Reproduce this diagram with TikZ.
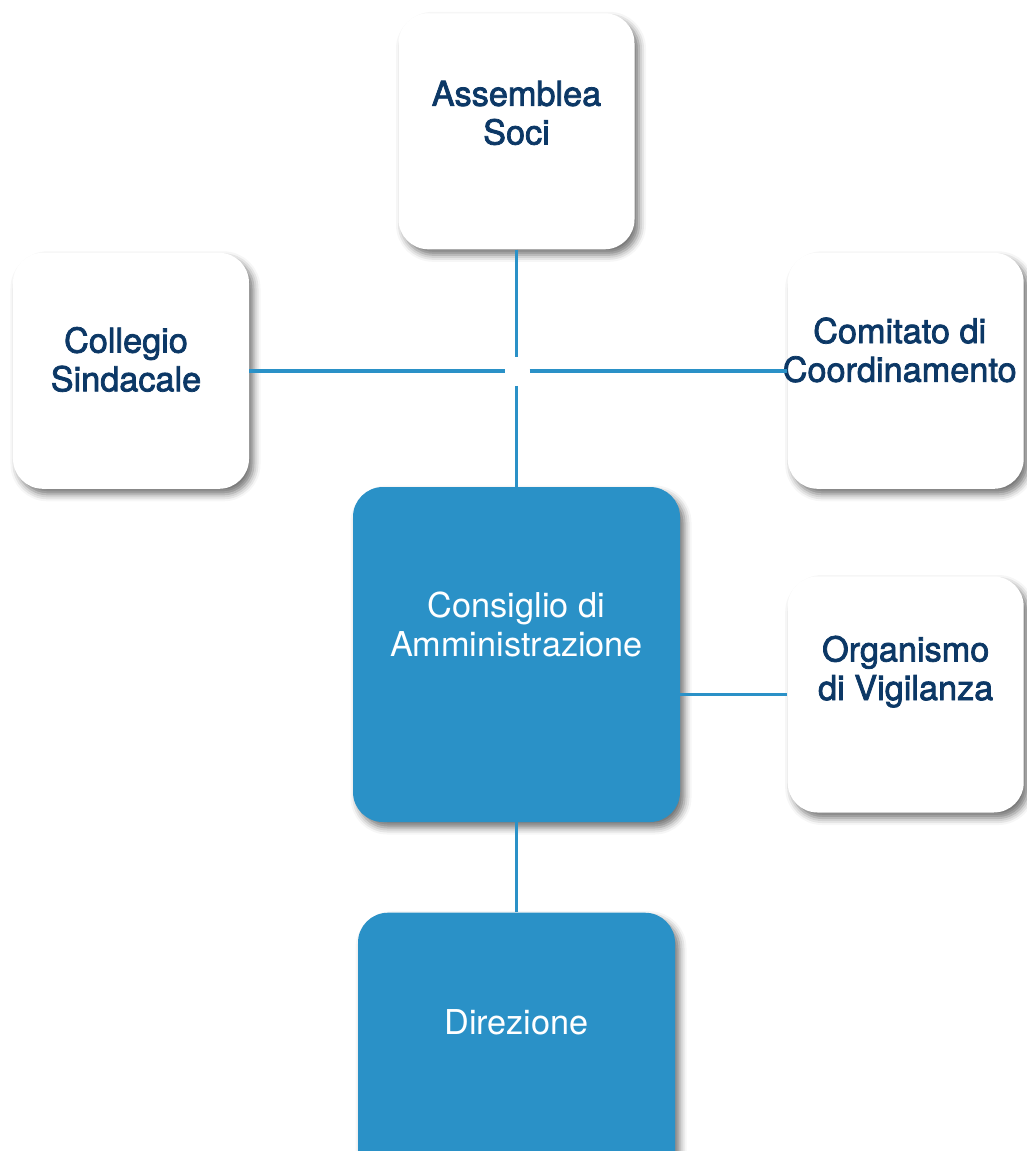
\documentclass[tikz,border=0pt]{standalone}
\usepackage{fontspec}
\setmainfont{TeX Gyre Heros}
\newfontfamily\medfont{TeX Gyre Heros}[FakeBold=2.2]
\usepackage{xcolor}
\usetikzlibrary{positioning,shadows.blur}
\definecolor{orgblue}{HTML}{2A91C7}
\definecolor{orgnavy}{HTML}{0C3866}

\begin{document}
\begin{tikzpicture}[
    font=\fontsize{19.5}{22}\selectfont,
    link/.style={draw=orgblue,line width=2pt},
    whitebox/.style={rounded corners=0.6cm,fill=white,
      minimum width=4.72cm,minimum height=4.72cm,
      blur shadow={shadow xshift=0.09cm,shadow yshift=-0.11cm,
        shadow blur radius=0.14cm,shadow opacity=55}},
    bluebox/.style={whitebox,fill=orgblue},
    darktext/.style={align=center,text=orgnavy,font=\medfont\fontsize{19.5}{22}\selectfont},
    lighttext/.style={align=center,text=white}
  ]
    \useasboundingbox (0,0) rectangle (20.54,-23.02);

    \node[bluebox,minimum width=6.54cm,minimum height=6.7cm] (cons) at (10.33,-13.09) {};
    \node[whitebox,above=4.74cm of cons] (soci) {};
    \node[bluebox,below=1.8cm of cons,minimum width=6.34cm,minimum height=6.2cm] (dir) {};
    \node[whitebox,right=2.14cm of cons,yshift=-0.8cm] (org) {};
    \node[whitebox,above=1.74cm of org] (com) {};
    \node[whitebox,left=10.76cm of com] (coll) {};

    \node[darktext] (socit) at ([yshift=-2.0cm]soci.north) {Assemblea\\Soci};
    \node[darktext] (collt) at ([xshift=-0.1cm,yshift=-2.14cm]coll.north) {Collegio\\Sindacale};
    \node[darktext] (comt) at ([xshift=-0.12cm,yshift=-1.95cm]com.north) {Comitato di\\Coordinamento};
    \node[lighttext] (const) at ([yshift=-2.76cm]cons.north) {Consiglio di\\Amministrazione};
    \node[darktext] (orgt) at ([yshift=-1.91cm]org.north) {Organismo\\di Vigilanza};
    \node[lighttext] (dirt) at ([yshift=-2.2cm]dir.north) {Direzione};

    % crossing with a small gap
    \coordinate (cross) at (soci.south |- com.west);
    \coordinate (crossn) at ([yshift=0.28cm]cross);
    \coordinate (crosss) at ([yshift=-0.3cm]cross);
    \coordinate (crossw) at ([xshift=-0.24cm]cross);
    \coordinate (crosse) at ([xshift=0.26cm]cross);

    \draw[link] (soci.south) -- (crossn);
    \draw[link] (crosss) -- (cons.north);
    \draw[link] (coll.east) -- (crossw);
    \draw[link] (crosse) -- (com.west);
    \draw[link] (cons.east |- org) -- (org.west);
    \draw[link] (cons.south) -- (dir.north);
  \end{tikzpicture}
\end{document}
